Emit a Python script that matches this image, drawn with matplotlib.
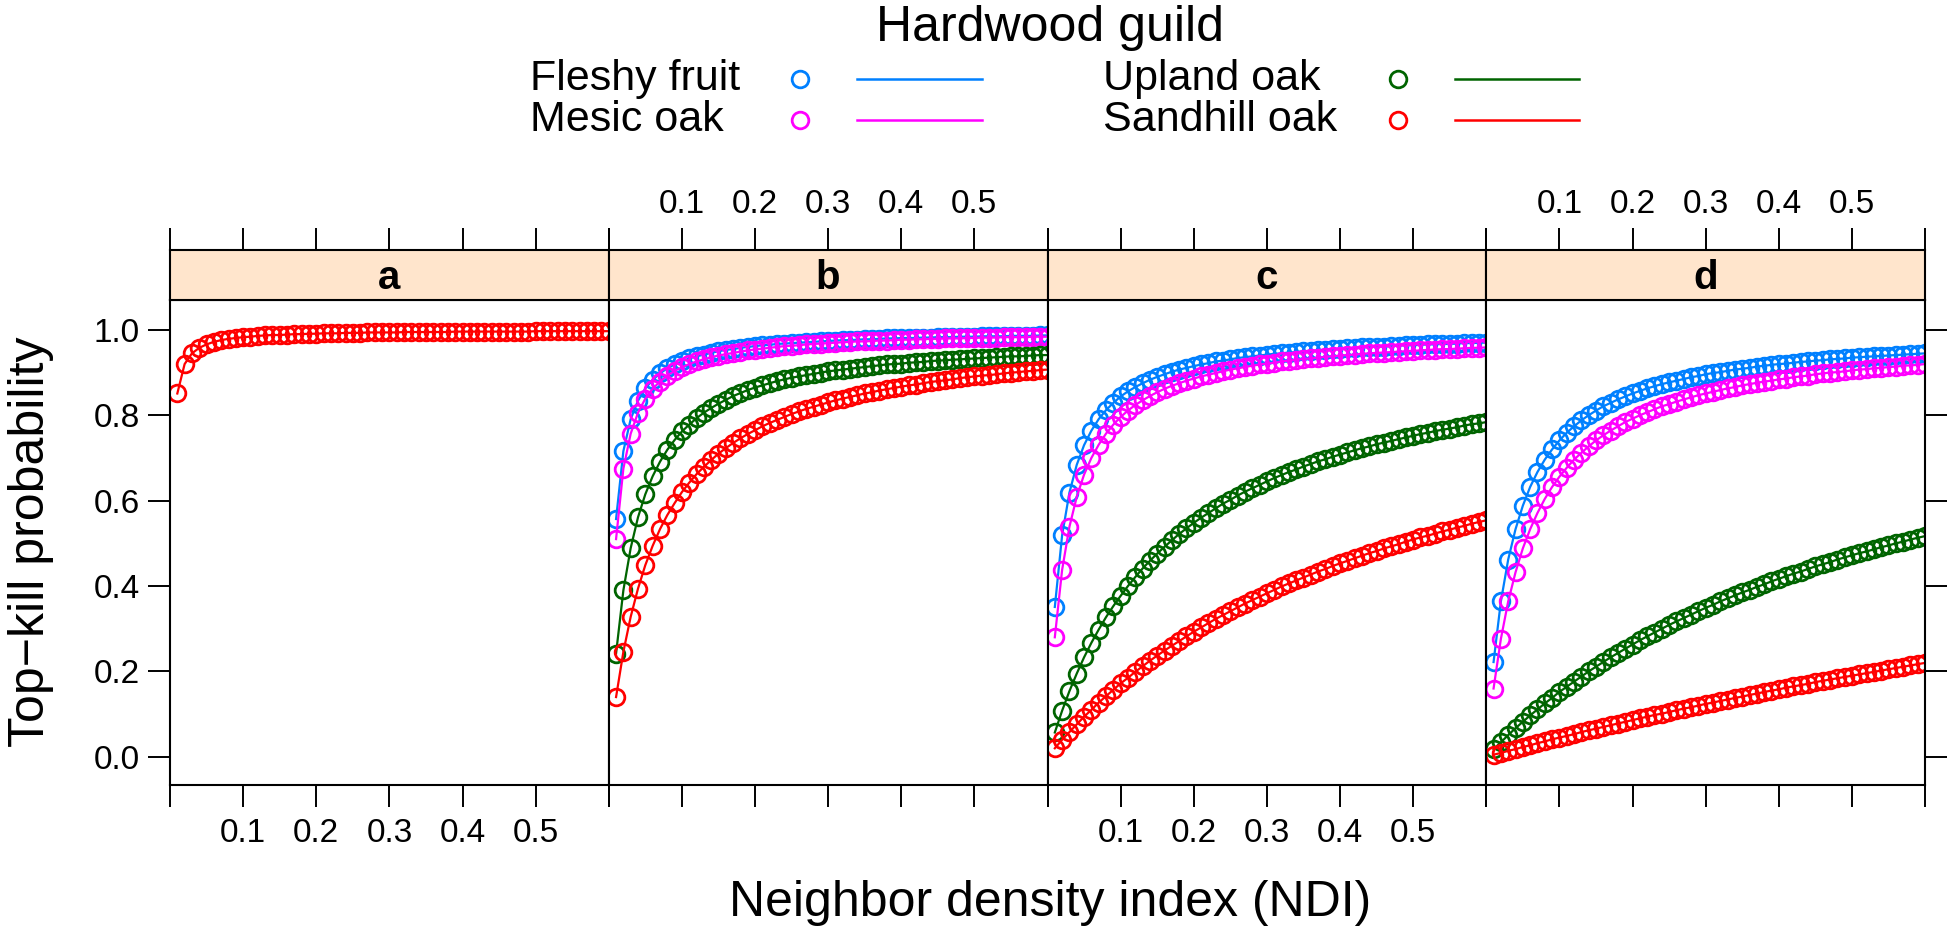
import matplotlib
matplotlib.use("Agg")
import matplotlib.pyplot as plt
from matplotlib.lines import Line2D

plt.rcParams["font.family"] = ["Liberation Sans", "DejaVu Sans"]

# neighbor density index values (same grid in every panel)
ndi = [0.01, 0.02, 0.03, 0.04, 0.05, 0.06, 0.07, 0.08, 0.09, 0.10,
       0.11, 0.12, 0.13, 0.14, 0.15, 0.16, 0.17, 0.18, 0.19, 0.20,
       0.21, 0.22, 0.23, 0.24, 0.25, 0.26, 0.27, 0.28, 0.29, 0.30,
       0.31, 0.32, 0.33, 0.34, 0.35, 0.36, 0.37, 0.38, 0.39, 0.40,
       0.41, 0.42, 0.43, 0.44, 0.45, 0.46, 0.47, 0.48, 0.49, 0.50,
       0.51, 0.52, 0.53, 0.54, 0.55, 0.56, 0.57, 0.58, 0.59, 0.60]

guilds = ["Fleshy fruit", "Mesic oak", "Upland oak", "Sandhill oak"]
guild_colors = ["#0080ff", "#ff00ff", "#006400", "#ff0000"]
panel_names = ["a", "b", "c", "d"]

# panel a
a_sandhill = [0.851, 0.920, 0.945, 0.958, 0.966, 0.972, 0.976, 0.979, 0.981, 0.983,
              0.984, 0.986, 0.987, 0.988, 0.988, 0.989, 0.990, 0.990, 0.991, 0.991,
              0.992, 0.992, 0.992, 0.993, 0.993, 0.993, 0.994, 0.994, 0.994, 0.994,
              0.994, 0.995, 0.995, 0.995, 0.995, 0.995, 0.995, 0.995, 0.996, 0.996,
              0.996, 0.996, 0.996, 0.996, 0.996, 0.996, 0.996, 0.996, 0.996, 0.997,
              0.997, 0.997, 0.997, 0.997, 0.997, 0.997, 0.997, 0.997, 0.997, 0.997]

# panel b
b_fleshy = [0.557, 0.716, 0.791, 0.834, 0.863, 0.883, 0.898, 0.910, 0.919, 0.926,
            0.933, 0.938, 0.942, 0.946, 0.950, 0.953, 0.955, 0.958, 0.960, 0.962,
            0.964, 0.965, 0.967, 0.968, 0.969, 0.970, 0.971, 0.972, 0.973, 0.974,
            0.975, 0.976, 0.976, 0.977, 0.978, 0.978, 0.979, 0.980, 0.980, 0.981,
            0.981, 0.981, 0.982, 0.982, 0.983, 0.983, 0.983, 0.984, 0.984, 0.984,
            0.985, 0.985, 0.985, 0.985, 0.986, 0.986, 0.986, 0.986, 0.987, 0.987]
b_mesic = [0.510, 0.675, 0.757, 0.806, 0.839, 0.862, 0.879, 0.893, 0.904, 0.912,
           0.920, 0.926, 0.931, 0.936, 0.940, 0.943, 0.946, 0.949, 0.952, 0.954,
           0.956, 0.958, 0.960, 0.962, 0.963, 0.964, 0.966, 0.967, 0.968, 0.969,
           0.970, 0.971, 0.972, 0.973, 0.973, 0.974, 0.975, 0.975, 0.976, 0.977,
           0.977, 0.978, 0.978, 0.979, 0.979, 0.980, 0.980, 0.980, 0.981, 0.981,
           0.982, 0.982, 0.982, 0.983, 0.983, 0.983, 0.983, 0.984, 0.984, 0.984]
b_upland = [0.242, 0.390, 0.489, 0.561, 0.615, 0.657, 0.691, 0.719, 0.742, 0.762,
            0.778, 0.793, 0.806, 0.817, 0.827, 0.836, 0.845, 0.852, 0.859, 0.865,
            0.870, 0.875, 0.880, 0.884, 0.888, 0.891, 0.894, 0.897, 0.900, 0.903,
            0.905, 0.907, 0.909, 0.911, 0.913, 0.915, 0.917, 0.919, 0.920, 0.921,
            0.923, 0.924, 0.925, 0.927, 0.928, 0.929, 0.930, 0.931, 0.932, 0.933,
            0.934, 0.935, 0.936, 0.937, 0.938, 0.938, 0.939, 0.940, 0.941, 0.941]
b_sandhill = [0.140, 0.246, 0.328, 0.394, 0.449, 0.494, 0.533, 0.566, 0.594, 0.620,
              0.642, 0.662, 0.679, 0.695, 0.710, 0.723, 0.735, 0.746, 0.756, 0.765,
              0.774, 0.782, 0.789, 0.796, 0.803, 0.809, 0.815, 0.820, 0.825, 0.830,
              0.835, 0.839, 0.843, 0.847, 0.851, 0.854, 0.858, 0.861, 0.864, 0.867,
              0.870, 0.872, 0.875, 0.878, 0.880, 0.882, 0.884, 0.887, 0.889, 0.891,
              0.893, 0.894, 0.896, 0.898, 0.900, 0.901, 0.903, 0.904, 0.906, 0.907]

# panel c
c_fleshy = [0.351, 0.519, 0.619, 0.684, 0.730, 0.764, 0.791, 0.812, 0.829, 0.844,
            0.856, 0.866, 0.875, 0.883, 0.890, 0.896, 0.902, 0.907, 0.911, 0.915,
            0.919, 0.922, 0.926, 0.928, 0.931, 0.934, 0.936, 0.938, 0.940, 0.942,
            0.944, 0.945, 0.947, 0.948, 0.950, 0.951, 0.952, 0.954, 0.955, 0.956,
            0.957, 0.958, 0.959, 0.960, 0.961, 0.961, 0.962, 0.963, 0.964, 0.964,
            0.965, 0.966, 0.966, 0.967, 0.967, 0.968, 0.969, 0.969, 0.970, 0.970]
c_mesic = [0.280, 0.438, 0.539, 0.609, 0.661, 0.700, 0.731, 0.757, 0.778, 0.796,
           0.811, 0.824, 0.835, 0.845, 0.854, 0.862, 0.869, 0.875, 0.881, 0.886,
           0.891, 0.895, 0.899, 0.903, 0.907, 0.910, 0.913, 0.916, 0.919, 0.921,
           0.923, 0.926, 0.928, 0.930, 0.932, 0.933, 0.935, 0.937, 0.938, 0.940,
           0.941, 0.942, 0.944, 0.945, 0.946, 0.947, 0.948, 0.949, 0.950, 0.951,
           0.952, 0.953, 0.954, 0.955, 0.955, 0.956, 0.957, 0.958, 0.958, 0.959]
c_upland = [0.057, 0.108, 0.154, 0.195, 0.233, 0.267, 0.298, 0.327, 0.353, 0.377,
            0.400, 0.421, 0.441, 0.459, 0.476, 0.492, 0.507, 0.522, 0.535, 0.548,
            0.560, 0.571, 0.582, 0.593, 0.602, 0.612, 0.621, 0.629, 0.637, 0.645,
            0.653, 0.660, 0.667, 0.673, 0.680, 0.686, 0.692, 0.697, 0.703, 0.708,
            0.713, 0.718, 0.723, 0.727, 0.732, 0.736, 0.740, 0.744, 0.748, 0.752,
            0.756, 0.759, 0.763, 0.766, 0.769, 0.772, 0.776, 0.779, 0.781, 0.784]
c_sandhill = [0.020, 0.040, 0.058, 0.076, 0.094, 0.110, 0.127, 0.142, 0.157, 0.172,
              0.185, 0.199, 0.212, 0.225, 0.237, 0.249, 0.260, 0.271, 0.282, 0.293,
              0.303, 0.313, 0.323, 0.332, 0.341, 0.350, 0.359, 0.367, 0.375, 0.383,
              0.391, 0.399, 0.406, 0.413, 0.420, 0.427, 0.434, 0.440, 0.447, 0.453,
              0.459, 0.465, 0.471, 0.477, 0.482, 0.488, 0.493, 0.498, 0.504, 0.509,
              0.514, 0.518, 0.523, 0.528, 0.532, 0.537, 0.541, 0.546, 0.550, 0.554]

# panel d
d_fleshy = [0.222, 0.364, 0.462, 0.533, 0.588, 0.632, 0.667, 0.696, 0.720, 0.741,
            0.759, 0.774, 0.788, 0.800, 0.811, 0.821, 0.829, 0.837, 0.844, 0.851,
            0.857, 0.863, 0.868, 0.873, 0.877, 0.881, 0.885, 0.889, 0.892, 0.896,
            0.899, 0.901, 0.904, 0.907, 0.909, 0.911, 0.914, 0.916, 0.918, 0.920,
            0.921, 0.923, 0.925, 0.926, 0.928, 0.929, 0.931, 0.932, 0.933, 0.935,
            0.936, 0.937, 0.938, 0.939, 0.940, 0.941, 0.942, 0.943, 0.944, 0.945]
d_mesic = [0.160, 0.276, 0.364, 0.432, 0.488, 0.533, 0.571, 0.604, 0.632, 0.656,
           0.677, 0.696, 0.712, 0.727, 0.741, 0.753, 0.764, 0.774, 0.784, 0.792,
           0.800, 0.807, 0.814, 0.821, 0.826, 0.832, 0.837, 0.842, 0.847, 0.851,
           0.855, 0.859, 0.863, 0.866, 0.870, 0.873, 0.876, 0.879, 0.881, 0.884,
           0.886, 0.889, 0.891, 0.893, 0.896, 0.898, 0.900, 0.901, 0.903, 0.905,
           0.907, 0.908, 0.910, 0.911, 0.913, 0.914, 0.916, 0.917, 0.918, 0.920]
d_upland = [0.018, 0.034, 0.051, 0.067, 0.082, 0.097, 0.111, 0.125, 0.138, 0.152,
            0.164, 0.176, 0.188, 0.200, 0.211, 0.222, 0.233, 0.243, 0.253, 0.263,
            0.273, 0.282, 0.291, 0.300, 0.309, 0.317, 0.325, 0.333, 0.341, 0.349,
            0.356, 0.364, 0.371, 0.378, 0.385, 0.391, 0.398, 0.404, 0.411, 0.417,
            0.423, 0.429, 0.434, 0.440, 0.446, 0.451, 0.456, 0.462, 0.467, 0.472,
            0.477, 0.481, 0.486, 0.491, 0.495, 0.500, 0.504, 0.509, 0.513, 0.517]
d_sandhill = [0.005, 0.009, 0.014, 0.018, 0.023, 0.027, 0.032, 0.036, 0.041, 0.045,
              0.049, 0.053, 0.058, 0.062, 0.066, 0.070, 0.074, 0.078, 0.082, 0.086,
              0.090, 0.094, 0.098, 0.101, 0.105, 0.109, 0.113, 0.116, 0.120, 0.124,
              0.127, 0.131, 0.134, 0.138, 0.141, 0.145, 0.148, 0.152, 0.155, 0.158,
              0.162, 0.165, 0.168, 0.171, 0.175, 0.178, 0.181, 0.184, 0.187, 0.190,
              0.193, 0.196, 0.199, 0.202, 0.205, 0.208, 0.211, 0.214, 0.217, 0.220]

panel_series = [
    [None, None, None, a_sandhill],
    [b_fleshy, b_mesic, b_upland, b_sandhill],
    [c_fleshy, c_mesic, c_upland, c_sandhill],
    [d_fleshy, d_mesic, d_upland, d_sandhill],
]

xticks = [0.0, 0.1, 0.2, 0.3, 0.4, 0.5, 0.6]
xticklabels = ["", "0.1", "0.2", "0.3", "0.4", "0.5", ""]
yticks = [0.0, 0.2, 0.4, 0.6, 0.8, 1.0]
yticklabels = ["0.0", "0.2", "0.4", "0.6", "0.8", "1.0"]

W, H = 1947, 938
fig = plt.figure(figsize=(W / 100, H / 100), dpi=100)


def fx(px):
    return px / W


def fy(py):
    return 1 - py / H


left0 = 170
pw = 438.75
ptop = 300
pbot = 785
stop = 250
tick_len = 15.8
lw_frame = 1.5
msize = 12
medge = 2.0

for i in range(4):
    L = left0 + i * pw
    ax = fig.add_axes([fx(L), fy(pbot), pw / W, (pbot - ptop) / H])
    ax.set_xlim(0, 0.6)
    ax.set_ylim(-0.066, 1.07)
    for s in ax.spines.values():
        s.set_linewidth(lw_frame)
    for ys, col in zip(panel_series[i], guild_colors):
        if ys is None:
            continue
        ax.plot(ndi, ys, color=col, lw=1.6, marker="o", ms=msize,
                mfc="none", mec=col, mew=medge)

    ax.set_xticks(xticks)
    if i in (0, 2):
        ax.set_xticklabels(xticklabels)
    else:
        ax.set_xticklabels([""] * len(xticks))
    ax.tick_params(axis="x", direction="out", length=tick_len, width=1.4,
                   labelsize=24, pad=8)

    ax.set_yticks(yticks)
    if i == 0:
        ax.set_yticklabels(yticklabels)
        ax.tick_params(axis="y", direction="out", length=tick_len, width=1.4,
                       labelsize=24, pad=6, left=True, right=False)
    elif i == 3:
        ax.yaxis.tick_right()
        ax.set_yticklabels([""] * len(yticks))
        ax.tick_params(axis="y", direction="out", length=tick_len, width=1.4,
                       left=False, right=True)
    else:
        ax.tick_params(axis="y", left=False, right=False, labelleft=False)

    # strip with the panel letter and the top axis
    sx = fig.add_axes([fx(L), fy(ptop), pw / W, (ptop - stop) / H])
    sx.set_facecolor("#ffe5cc")
    sx.set_xlim(0, 0.6)
    sx.set_ylim(0, 1)
    for s in sx.spines.values():
        s.set_linewidth(lw_frame)
    sx.set_yticks([])
    sx.xaxis.tick_top()
    sx.set_xticks(xticks)
    if i in (1, 3):
        sx.set_xticklabels(xticklabels)
    else:
        sx.set_xticklabels([""] * len(xticks))
    sx.tick_params(axis="x", direction="out", length=tick_len, width=1.4,
                   labelsize=24, pad=6)
    sx.text(0.3, 0.45, panel_names[i], ha="center", va="center",
            fontsize=29, fontweight="bold")

fig.text(fx(1050), fy(903), "Neighbor density index (NDI)",
         ha="center", va="center", fontsize=36)
fig.text(fx(31), fy(542), "Top\u2212kill probability", rotation=90,
         ha="center", va="center", fontsize=36)

# key
fig.text(fx(1050), fy(28), "Hardwood guild", ha="center", va="center", fontsize=36)
key_cols = [(530, 800, 857, 982), (1103, 1398, 1455, 1579)]
key_rows = [79, 120]
for j, (name, col) in enumerate(zip(guilds, guild_colors)):
    tx, cx, l0, l1 = key_cols[j // 2]
    ry = key_rows[j % 2]
    fig.text(fx(tx), fy(ry), name, ha="left", va="center", fontsize=31)
    fig.add_artist(Line2D([fx(cx)], [fy(ry)], marker="o", ms=msize, mfc="none",
                          mec=col, mew=medge, transform=fig.transFigure))
    fig.add_artist(Line2D([fx(l0), fx(l1)], [fy(ry), fy(ry)], color=col, lw=1.8,
                          transform=fig.transFigure))

fig.savefig("out.png", dpi=100)
